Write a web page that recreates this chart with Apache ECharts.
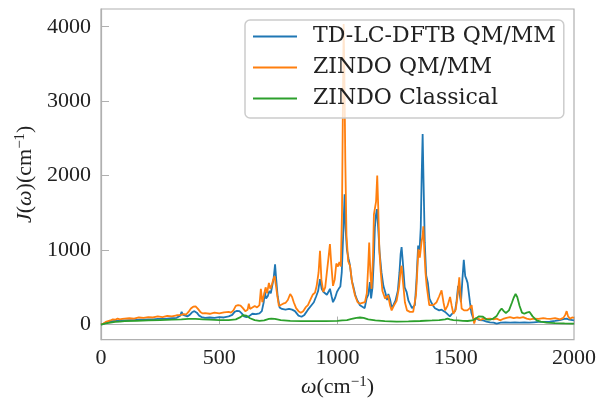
<!DOCTYPE html>
<html>
<head>
<meta charset="utf-8">
<script src="https://cdn.jsdelivr.net/npm/echarts@6/dist/echarts.min.js"></script>
<style>
html,body{margin:0;padding:0;background:#fff;}
#c{width:607px;height:403px;}
</style>
</head>
<body>
<div id="c"></div>
<script>
// ---- data ----
const seriesNames = ['TD-LC-DFTB QM/MM', 'ZINDO QM/MM', 'ZINDO Classical'];
const xTicks = [0, 500, 1000, 1500, 2000];
const yTicks = [0, 1000, 2000, 3000, 4000];

const blueX = [0,10,20,30,40,50,60,70,80,100,120,140,160,180,200,220,240,260,280,300,320,335,341,347,355,365,375,385,395,405,415,425,440,460,480,500,520,540,555,565,575,585,595,605,615,625,640,655,670,680,688,693,698,705,712,718,724,730,736,741,747,755,765,780,795,808,820,835,848,860,875,890,900,910,918,926,933,940,948,955,962,968,975,981,990,998,1005,1012,1018,1024,1030,1034,1040,1047,1053,1060,1066,1075,1083,1095,1105,1115,1123,1130,1137,1142,1148,1154,1158,1163,1167,1172,1178,1186,1194,1203,1210,1215,1222,1229,1236,1245,1255,1262,1267,1271,1276,1284,1292,1300,1306,1315,1327,1334,1341,1347,1352,1356,1360,1364,1369,1375,1382,1389,1396,1403,1412,1420,1430,1440,1447,1455,1465,1475,1483,1490,1497,1503,1510,1516,1522,1528,1534,1540,1545,1550,1555,1560,1566,1574,1582,1590,1600,1616,1630,1645,1660,1673,1690,1710,1730,1750,1770,1790,1810,1830,1850,1870,1898,1920,1940,1960,1969,1980,2000];
const blueY = [0,10,25,35,40,45,50,50,55,55,60,60,65,65,70,70,75,75,80,85,90,120,170,130,110,110,130,165,180,160,120,100,90,95,90,100,95,110,130,170,185,180,150,110,100,110,145,140,150,180,300,440,350,380,450,420,520,620,810,600,380,230,210,200,210,200,180,120,105,130,200,260,300,380,450,610,480,440,420,400,440,480,380,300,360,440,480,510,700,1200,1750,1300,1000,880,790,600,525,400,330,260,240,220,350,400,570,350,500,900,1300,1480,1550,1300,970,700,520,420,330,410,340,230,260,320,450,700,950,1040,850,500,440,320,280,220,260,600,1060,1000,1300,2000,2560,1900,1100,660,560,350,300,260,220,210,190,200,190,170,140,110,140,125,180,300,520,420,300,600,870,650,610,560,580,300,160,80,60,75,60,55,40,30,25,13,25,30,25,30,25,30,25,30,35,35,40,50,60,75,80,65,55];

const orangeX = [0,10,20,30,40,50,60,70,80,90,100,120,140,160,180,200,220,240,260,280,300,320,340,350,360,370,380,390,400,410,420,430,440,460,480,500,520,540,550,560,570,580,590,600,610,620,625,630,640,650,660,670,676,682,690,696,702,710,716,722,728,734,738,745,752,760,770,780,790,800,808,815,825,835,845,855,865,875,885,895,905,912,920,926,932,940,948,955,962,968,974,981,988,995,1002,1008,1014,1019,1023,1026,1029,1033,1038,1045,1053,1062,1074,1085,1095,1105,1116,1124,1130,1134,1139,1144,1150,1154,1158,1163,1168,1172,1177,1183,1190,1201,1214,1222,1229,1238,1250,1260,1266,1271,1276,1285,1294,1306,1320,1332,1337,1342,1348,1355,1360,1363,1367,1372,1377,1388,1405,1419,1430,1440,1448,1455,1465,1476,1483,1490,1500,1508,1515,1520,1525,1535,1549,1560,1567,1573,1578,1585,1595,1605,1616,1630,1645,1660,1673,1687,1700,1715,1729,1745,1760,1771,1785,1800,1814,1830,1850,1870,1884,1900,1920,1941,1955,1963,1969,1975,1983,1992,2000];
const orangeY = [0,15,35,45,55,70,65,80,70,75,80,85,80,95,90,100,95,110,100,115,110,125,130,140,135,170,215,240,245,210,170,150,155,145,160,150,165,170,160,190,250,260,255,220,180,200,280,210,230,250,230,260,480,300,320,500,420,560,480,530,600,650,560,400,250,260,280,290,330,410,370,300,220,180,160,180,230,260,330,400,430,520,700,990,600,440,500,700,900,1080,800,520,600,820,780,840,780,1500,3000,4036,3400,2200,1200,850,790,560,390,300,280,290,300,420,800,1100,700,480,900,1480,1500,1650,2000,1600,1000,700,450,350,390,260,190,250,320,500,700,790,600,300,190,170,170,400,700,1010,900,1100,1200,1320,1000,700,520,260,260,300,380,460,300,190,250,370,250,145,200,400,635,400,215,190,190,220,260,120,13,90,80,60,80,75,80,70,80,57,75,90,100,85,95,90,100,80,70,80,75,85,80,75,85,70,90,130,180,110,80,95,90];

const greenX = [0,20,40,60,80,100,150,200,250,300,340,370,400,430,460,500,540,570,590,600,607,615,630,650,670,690,710,720,735,760,800,850,900,950,1000,1020,1040,1060,1080,1095,1110,1130,1160,1200,1250,1300,1350,1400,1430,1455,1465,1475,1490,1510,1530,1550,1570,1585,1597,1605,1615,1631,1645,1658,1672,1685,1694,1703,1712,1725,1737,1745,1753,1760,1770,1780,1790,1800,1812,1825,1842,1860,1884,1920,1960,2000];
const greenY = [0,15,25,35,40,45,50,55,60,65,70,75,75,70,65,60,60,70,100,125,135,120,85,60,50,55,75,80,75,60,50,45,45,45,50,55,60,75,90,95,90,70,55,45,40,42,48,55,60,70,80,70,60,55,50,48,55,80,110,125,105,67,65,80,110,180,215,180,155,190,290,360,410,370,250,160,145,160,170,110,57,40,27,20,15,13];

const colors = ['#1f77b4', '#ff7f0e', '#2ca02c'];

function zip(xs, ys) { return xs.map((x, i) => [x, ys[i]]); }

const FONT = "'Liberation Serif', 'DejaVu Serif', serif";
const LFONT = "'DejaVu Serif', 'Liberation Serif', serif";
const AXC = '#b0b0b0';
const fmt = v => String(v);

const chart = echarts.init(document.getElementById('c'), null, {renderer: 'canvas'});
chart.setOption({
  animation: false,
  backgroundColor: '#fff',
  grid: {left: 101, top: 9, width: 473, height: 333, show: true, borderColor: AXC, borderWidth: 1.2, backgroundColor: 'transparent', containLabel: false},
  legend: {
    orient: 'vertical', align: 'left', left: 245, top: 20,
    data: seriesNames,
    icon: 'rect', itemWidth: 44, itemHeight: 2, itemGap: 0,
    padding: [1, 8, 4, 8],
    backgroundColor: 'rgba(255,255,255,0.8)',
    borderColor: '#cccccc', borderWidth: 1.5, borderRadius: 5,
    textStyle: {fontFamily: LFONT, fontSize: 22, color: '#222', lineHeight: 31, padding: [0, 0, 0, 11]}
  },
  xAxis: {
    type: 'value', min: 0, max: 2000, interval: 500,
    axisLine: {show: true, lineStyle: {color: AXC, width: 1.2}},
    axisTick: {show: true, inside: true, length: 8, lineStyle: {color: AXC, width: 1}},
    axisLabel: {fontFamily: FONT, fontSize: 22, color: '#222', margin: 8, formatter: fmt},
    splitLine: {show: false},
    name: '{i|ω}(cm{sup|−1})', nameLocation: 'middle', nameGap: 33,
    nameTextStyle: {fontFamily: FONT, fontSize: 22, color: '#222', rich: {
      i: {fontFamily: FONT, fontSize: 22, fontStyle: 'italic', color: '#222'},
      sup: {fontFamily: FONT, fontSize: 15, color: '#222', verticalAlign: 'top', padding: [0,0,10,0]}
    }}
  },
  yAxis: {
    type: 'value', min: -202, max: 4238,
    axisLine: {show: true, lineStyle: {color: AXC, width: 1.2}},
    axisTick: {show: true, inside: true, length: 8, lineStyle: {color: AXC, width: 1}, customValues: yTicks},
    axisLabel: {fontFamily: FONT, fontSize: 22, color: '#222', margin: 10, customValues: yTicks, formatter: fmt},
    splitLine: {show: false},
    name: '{i|J}({i|ω})(cm{sup|−1})', nameLocation: 'middle', nameGap: 62,
    nameTextStyle: {fontFamily: FONT, fontSize: 22, color: '#222', rich: {
      i: {fontFamily: FONT, fontSize: 22, fontStyle: 'italic', color: '#222'},
      sup: {fontFamily: FONT, fontSize: 15, color: '#222', verticalAlign: 'top', padding: [0,0,10,0]}
    }}
  },
  series: [
    {name: seriesNames[0], type: 'line', data: zip(blueX, blueY), showSymbol: false, symbol: 'none', lineStyle: {color: colors[0], width: 1.8}, itemStyle: {color: colors[0]}, z: 2},
    {name: seriesNames[1], type: 'line', data: zip(orangeX, orangeY), showSymbol: false, symbol: 'none', lineStyle: {color: colors[1], width: 1.8}, itemStyle: {color: colors[1]}, z: 3},
    {name: seriesNames[2], type: 'line', data: zip(greenX, greenY), showSymbol: false, symbol: 'none', lineStyle: {color: colors[2], width: 1.8}, itemStyle: {color: colors[2]}, z: 4}
  ]
});
</script>
</body>
</html>
